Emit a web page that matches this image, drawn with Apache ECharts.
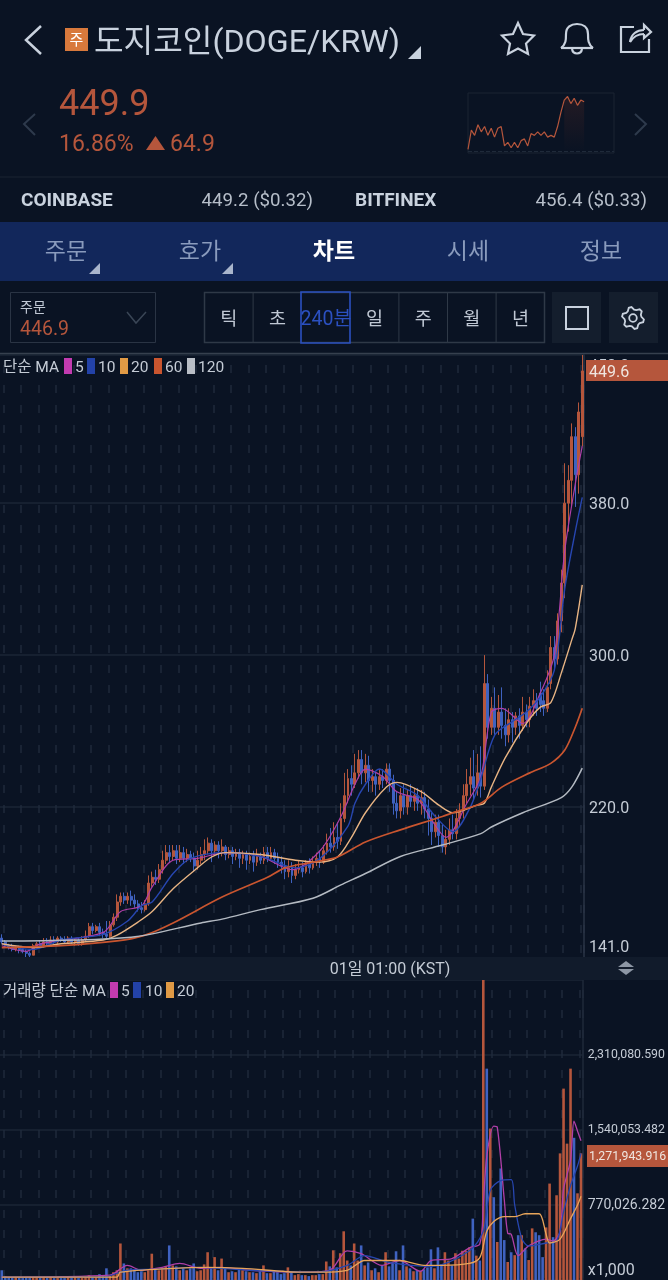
<!DOCTYPE html>
<html><head><meta charset="utf-8">
<style>html,body{margin:0;padding:0;background:#0a1323}#c{width:668px;height:1280px}</style>
<script src="https://cdn.jsdelivr.net/npm/echarts@6/dist/echarts.min.js"></script>
</head><body><div id="c"></div>
<script>
// open, close, low, high
const candleRows = [
[151,149,148,153],[149,147,146,150],[147,146,145,148],[146,145,144,148],[145,146,144,147],[146,145,143,147],[145,144,143,146],[144,143,141,145],[143,142,141,144],[142,147,142,148],
[147,148,146,149],[148,147,146,150],[147,149,146,151],[149,148,147,151],[148,150,147,152],[150,149,148,152],[149,151,148,152],[151,150,149,152],[150,149,148,152],[149,151,148,152],
[151,149,148,152],[149,150,147,151],[150,148,147,151],[148,150,147,152],[150,152,149,155],[152,157,151,159],[157,155,153,159],[155,157,154,158],[157,154,152,159],[154,153,151,156],
[153,152,151,160],[152,158,151,160],[158,162,157,164],[162,170,160,174],[170,173,168,175],[173,171,169,175],[171,173,169,175],[173,171,168,176],[171,169,167,174],[169,167,165,171],
[167,166,164,170],[166,169,165,171],[169,180,168,184],[180,183,178,186],[183,182,179,187],[182,187,180,190],[187,192,185,197],[192,196,190,200],[196,194,191,200],[194,197,192,200],
[197,193,190,200],[193,196,191,200],[196,193,190,199],[193,195,191,198],[195,193,191,197],[193,189,186,196],[189,192,187,197],[192,195,190,199],[195,197,192,203],[197,201,195,204],
[201,197,191,203],[197,200,195,202],[200,197,193,202],[197,199,194,203],[199,195,192,200],[195,197,193,199],[197,194,190,199],[194,196,192,198],[196,193,188,198],[193,195,190,197],
[195,192,187,197],[192,194,190,196],[194,191,186,197],[191,194,189,198],[194,192,190,196],[192,196,190,199],[196,193,191,199],[193,196,192,199],[196,193,190,198],[193,191,188,196],
[191,189,185,194],[189,186,182,192],[186,188,183,192],[188,184,180,191],[184,187,182,190],[187,188,185,192],[188,186,183,191],[186,190,185,192],[190,188,185,193],[188,191,187,194],
[191,193,189,196],[193,191,188,197],[191,197,190,200],[197,201,195,206],[201,199,196,209],[199,204,197,212],[204,202,198,212],[202,214,200,222],[214,226,212,238],[226,235,222,240],
[235,232,226,242],[232,238,230,248],[238,245,235,250],[245,238,232,250],[238,242,233,248],[242,234,228,247],[234,236,228,240],[236,232,226,239],[232,236,229,240],[236,234,230,240],
[234,240,232,243],[240,234,228,243],[234,222,216,237],[222,218,214,228],[218,226,214,230],[226,220,216,232],[220,226,216,229],[226,223,220,232],[223,226,218,230],[226,222,218,230],
[222,225,216,229],[225,219,214,228],[219,214,205,224],[214,207,200,218],[207,212,204,216],[212,205,199,216],[205,199,196,211],[199,203,195,208],[203,208,200,214],[208,206,203,216],
[206,214,203,219],[214,218,210,222],[218,226,214,232],[226,232,222,240],[232,236,226,246],[236,230,224,250],[230,238,226,248],[238,231,225,252],[231,285,229,300],[285,262,256,290],
[262,272,258,278],[272,262,258,283],[262,270,258,279],[270,263,256,283],[263,258,252,272],[258,266,254,272],[266,262,254,270],[262,268,258,270],[268,263,256,272],[263,270,260,278],
[270,266,262,274],[266,273,262,278],[273,276,268,282],[276,272,268,280],[280,274,270,286],[276,272,268,282],[272,283,270,292],[285,304,282,310],[304,298,292,310],[298,318,295,322],
[318,338,312,345],[338,380,330,401],[380,392,365,400],[392,415,378,422],[415,395,378,420],[395,428,385,433],[415,449.6,410,458]
];
// volume, in the axis' x1,000 units
const volumes = [
100000,40000,30000,30000,30000,30000,20000,30000,30000,30000,30000,30000,30000,20000,30000,20000,20000,20000,20000,30000,
30000,30000,20000,20000,30000,50000,30000,30000,60000,40000,120000,50000,80000,100000,375000,170000,120000,120000,100000,80000,
90000,80000,100000,270000,120000,100000,120000,140000,355000,150000,140000,100000,120000,100000,120000,170000,90000,100000,160000,285000,
120000,235000,100000,220000,120000,80000,90000,80000,110000,100000,90000,80000,80000,70000,90000,150000,70000,70000,90000,80000,
60000,70000,130000,80000,50000,60000,50000,50000,40000,50000,50000,60000,60000,190000,140000,305000,130000,275000,500000,200000,
150000,375000,200000,355000,150000,180000,100000,120000,80000,150000,285000,140000,180000,295000,100000,355000,140000,120000,90000,100000,
90000,110000,130000,315000,120000,335000,160000,285000,200000,150000,275000,220000,300000,300000,335000,630000,250000,200000,3080000,2170000,
1555000,850000,390000,1145000,410000,185000,285000,255000,460000,460000,325000,205000,530000,490000,460000,235000,540000,990000,440000,870000,
1300000,1965000,1400000,2170000,1460000,890000,1300000
];
// moving averages: [candle index, value]
const ma5 = [[0,147],[7,144],[11,148],[29,154],[34,165],[40,168],[43,178],[49,192],[56,193],[64,196],[74,194],[83,187],[91,197],[97,215],[101,232],[104,240],[109,236],[113,228],[119,224],[123,213],[127,204],[133,222],[137,236],[140,270],[143,272],[149,264],[154,280],[158,300],[161,355],[164,390],[166,410]];
const ma10 = [[0,148],[9,145],[17,150],[29,153],[36,160],[40,168],[43,170],[49,185],[54,193],[64,196],[74,194],[84,188],[91,193],[99,210],[101,222],[104,232],[108,240],[113,232],[119,226],[124,215],[129,207],[134,220],[137,235],[141,258],[146,265],[150,270],[154,278],[158,292],[161,335],[164,365],[166,383]];
const ma20 = [[0,148],[9,146],[17,148],[29,150],[33,152.6],[39,159.5],[43,165],[49,177],[56,188],[60,193.7],[64,196],[74,195],[84,192],[91,191],[96,193.7],[100,204],[104,217],[110,230.5],[113,233],[120,228],[125,221],[129,217],[136,221],[138,222],[140,230.5],[144,246],[150,264],[154,272.6],[157,275],[160,290.5],[163,308],[164,314],[166,337]];
const ma60 = [[0,146],[17,147],[33,149.5],[41,152.6],[49,159],[63,172.6],[76,183],[81,188],[89,191],[96,193.7],[104,201.6],[114,208],[126,215],[129,217],[137,222],[143,230.5],[151,238],[157,243],[161,250],[164,262],[166,272]];
const ma120 = [[0,149.5],[37,151.5],[57,159],[63,161],[74,166],[89,172],[97,179],[104,185],[114,194],[126,200],[137,206],[140,209.5],[149,217],[160,225],[163,230.5],[166,240.5]];
const volMa5 = [[0,30000],[31,50000],[36,150000],[40,100000],[46,130000],[51,170000],[57,120000],[63,130000],[71,100000],[86,80000],[94,100000],[99,300000],[103,270000],[109,150000],[114,200000],[120,90000],[123,200000],[129,220000],[134,330000],[137,370000],[138,770000],[139,1270000],[141,1580000],[142,1570000],[144,830000],[145,480000],[146,470000],[148,250000],[151,350000],[156,420000],[158,400000],[160,500000],[161,930000],[163,1230000],[164,1630000],[165,1530000],[166,1430000]];
const volMa10 = [[0,30000],[29,30000],[36,100000],[43,110000],[57,130000],[71,100000],[91,80000],[99,150000],[104,250000],[111,180000],[123,140000],[134,300000],[138,500000],[140,920000],[143,1020000],[146,1030000],[147,770000],[149,430000],[151,350000],[156,380000],[159,400000],[161,700000],[163,970000],[165,1170000],[166,1300000]];
const volMa20 = [[0,30000],[33,30000],[34,80000],[49,120000],[59,130000],[69,120000],[86,80000],[91,80000],[99,100000],[104,200000],[114,200000],[121,150000],[126,150000],[134,170000],[137,230000],[139,500000],[141,600000],[144,650000],[147,650000],[150,680000],[154,680000],[156,470000],[157,380000],[160,420000],[163,630000],[165,770000],[166,860000]];
const priceTicks = {140:"141.0",220:"220.0",300:"300.0",380:"380.0",458:"458.0"};
const volumeTickLabels = ["x1,000","770,026.282","1,540,053.482","2,310,080.590",""];
const lastPrice = "449.6", lastVolume = "1,271,943.916";
const sparkline = [5,60,45,75,55,70,45,65,40,65,70,15,25,10,25,10,30,35,15,50,45,55,45,55,40,45,40,70,110,145,155,135,150,130,145,140];
const sparkShade = [,,,,,,,,,,,,,,,,,,,,,,,,,,,,,145,155,135,150,130,145,140];
const tabs = ["주문","호가","차트","시세","정보"];
const periods = ["틱","초","240분","일","주","월","년"];

const FF = 'Roboto,"Noto Sans CJK KR",sans-serif';
const BG='#0a1323', RED='#b5563c', BLUE='#3f62c0', TXT='#c5ccd6', GRID='#1b2636', DASH='#1f2a3b';
const cats = candleRows.map((_,i)=>String(i));
const T=(x,y,text,size,fill,o={})=>({type:'text',z:50,x,y:y+size*0.11,style:{text,font:`${o.bold?'700 ':''}${size}px ${FF}`,fill,textAlign:o.a||'left',textVerticalAlign:'middle'}});
const R=(x,y,w,h,fill,o={})=>({type:'rect',z:o.z||40,shape:{x,y,width:w,height:h},style:{fill,stroke:o.stroke||null,lineWidth:o.lw||1}});
const P=(pts,stroke,lw=2,fill=null)=>({type:fill?'polygon':'polyline',z:50,shape:{points:pts},style:{stroke:stroke==='none'?null:stroke,lineWidth:lw,fill:fill||null}});
const B=(x1,y1,cpx1,cpy1,cpx2,cpy2,x2,y2,c,lw)=>({type:'bezierCurve',z:50,shape:{x1,y1,cpx1,cpy1,cpx2,cpy2,x2,y2},style:{stroke:c,lineWidth:lw,fill:null}});
const LINE=(x1,y1,x2,y2,c,lw=1)=>({type:'line',z:41,shape:{x1,y1,x2,y2},style:{stroke:c,lineWidth:lw}});

const g=[];
const IC='#c9d2de';
// header
g.push(P([[41,26],[26,40],[41,54]],IC,2.5));
g.push(R(65,28,23,23,'#d8793c'));
g.push(T(76.5,40,'주',15,'#fff',{a:'center'}));
g.push(T(94,40,'도지코인(DOGE/KRW)',32.2,IC));
g.push(P([[421,46],[421,59],[408,59]],'none',0,IC));
g.push({type:'polygon',z:50,shape:{points:[[518,23],[523,34],[534,35.5],[526,43.5],[528,54],[518,48.5],[508,54],[510,43.5],[502,35.5],[513,34]]},style:{stroke:IC,lineWidth:2.2,fill:null}});
// bell
g.push(B(561,48,566,44,566,40,566,34,IC,2.2),B(566,34,566,27,571,24,577,24,IC,2.2),B(577,24,583,24,588,27,588,34,IC,2.2),B(588,34,588,40,588,44,593,48,IC,2.2));
g.push(LINE(561,48,593,48,IC,2.2),B(572,49,573,55,581,55,582,49,IC,2.2));
// share
g.push(P([[634,27],[621,27],[621,52],[649,52],[649,39]],IC,2.2));
g.push(B(630,42,631,34,637,30,644,30,IC,2.2),P([[644,30],[644,25],[651,32],[644,38],[644,34]],IC,2.2),B(644,34,638,34,633,37,630,42,IC,2.2));
g.push(T(59,102,'449.9',36,RED));
g.push(T(59,143,'16.86%',23,RED));
g.push(P([[146,150],[155.5,136],[165,150]],'none',0,RED));
g.push(T(170,143,'64.9',23,RED));
g.push(P([[35,114],[24,124],[35,135]],'#2e3a4c',2));
g.push(P([[635,114],[646,124],[635,135]],'#2e3a4c',2));
g.push(LINE(0,177,668,177,'#1a2433',1));
g.push(T(21,199,'COINBASE',19,IC,{bold:true}));
g.push(T(313,199,'449.2 ($0.32)',18.7,'#b6bec9',{a:'right'}));
g.push(T(355,199,'BITFINEX',19,IC,{bold:true}));
g.push(T(647,199,'456.4 ($0.33)',18.7,'#b6bec9',{a:'right'}));
// tab bar
g.push(R(0,222,668,59,'#12275b'));
const tabX=[66,200,334,468,601];
tabs.forEach((t,i)=>g.push(T(tabX[i],251,t,23,i==2?'#fff':'#8a9bbd',{a:'center',bold:i==2})));
[100,233].forEach(x=>g.push(P([[x,263],[x,274],[x-11,274]],'none',0,'#a9b5cc')));
// toolbar
g.push(R(10.5,292.5,145,50,null,{stroke:'#2a3444'}));
g.push(T(20,307,'주문',14,'#c0c8d4'));
g.push(T(20,328,'446.9',19.5,RED));
g.push(P([[127,312],[136,323],[146,312]],'#3a4656',1.5));
g.push(R(204.5,292.5,340,50,null,{stroke:'#2f3947',lw:1.5}));
periods.forEach((p,i)=>{const x=204.5+i*48.6;
 if(i>0&&i!=2&&i!=3)g.push(LINE(x,292.5,x,342.5,'#2f3947',1));
 g.push(T(x+24.3,318,p,i==2?19.5:18.5,i==2?'#2b50c0':'#c0c8d4',{a:'center'}));});
g.push(R(301,292,49,51,null,{stroke:'#2b50c0',lw:1.6,z:45}));
g.push(R(552,292,49,51,'#141e2d'));
g.push(R(566,307,22,22,null,{stroke:IC,lw:2,z:50}));
g.push(R(609,292,49,51,'#141e2d'));
{const pts=[];for(let i=0;i<24;i++){const a=i/24*Math.PI*2,r=(i%4<2)?11:8.5;pts.push([633+r*Math.cos(a+0.13),318+r*Math.sin(a+0.13)]);}
 g.push({type:'polygon',z:50,shape:{points:pts},style:{stroke:IC,lineWidth:1.8,fill:null}});
 g.push({type:'circle',z:50,shape:{cx:633,cy:318,r:3.8},style:{stroke:IC,lineWidth:1.8,fill:null}});}
g.push(LINE(0,353.5,668,353.5,'#36404e',1.5));
// legends
function legend(y,label,items){g.push(T(3,y,label,15.5,TXT));
 items.forEach(([x,c,t,tx])=>{g.push(R(x,y-8,8,16,c));g.push(T(tx,y,t,15.5,TXT));});}
legend(366,'단순 MA',[[64,'#c23bb0','5',75],[87,'#2342a8','10',98],[120,'#e09a45','20',131],[154,'#c9552f','60',165],[187,'#b9bec6','120',198]]);
legend(990,'거래량 단순 MA',[[110,'#c23bb0','5',121],[133,'#2342a8','10',145],[166,'#e09a45','20',177]]);
// last price tags
g.push(R(586,360,82,21,'#b5563c'));
g.push(T(589,371,lastPrice,16,'#f0e6e0'));
g.push(R(587,1145,81,22,'#b5563c'));
g.push(T(589,1156,lastVolume,12.3,'#f0e6e0'));
// time strip
g.push(R(0,957,668,23,'#111b2b'));
g.push(T(390,968,'01일 01:00 (KST)',16,TXT,{a:'center'}));
g.push(P([[618,967],[626,961],[634,967]],'none',0,'#8d97a5'));
g.push(P([[618,969],[626,975],[634,969]],'none',0,'#8d97a5'));

const vertLines=(i)=>i%5===1;
const xBase=(idx)=>({type:'category',gridIndex:idx,data:cats,boundaryGap:true,
 axisLine:{show:false},axisTick:{show:false},axisLabel:{show:false},
 splitLine:{show:true,interval:vertLines,lineStyle:{color:DASH,width:1.5,type:[8,12],dashOffset:10}}});
const lineS=(name,data,color,w,xi=0)=>({name,type:'line',xAxisIndex:xi,yAxisIndex:xi,data,symbol:'none',smooth:0.3,silent:true,animation:false,connectNulls:true,lineStyle:{color,width:w},z:3});

const option={
 animation:false,backgroundColor:BG,
 grid:[{left:0,right:84,top:355,height:604},{left:0,right:84,top:980,height:300},{left:468,width:146,top:93,height:60,show:true,borderColor:'#1a2433',borderWidth:1}],
 xAxis:[xBase(0),xBase(1),{type:'category',gridIndex:2,data:Array.from({length:45},(_,i)=>String(i)),boundaryGap:false,axisLine:{show:false},axisTick:{show:false},axisLabel:{show:false},splitLine:{show:false}}],
 yAxis:[
  {type:'value',gridIndex:0,position:'right',min:140,max:458,interval:80,
   axisLine:{show:true,lineStyle:{color:'#2a3446',width:1.5}},axisTick:{show:false},
   axisLabel:{margin:5,fontFamily:FF,verticalAlignMinLabel:'bottom',verticalAlignMaxLabel:'top',
    formatter:v=>{const s=priceTicks[v]||'';return s?`{${v==140?'low':'n'}|${s}}`:'';},
    rich:{n:{color:TXT,fontSize:16,fontFamily:FF,padding:[4,0,0,0]},low:{color:TXT,fontSize:16,fontFamily:FF,padding:[0,0,3,0]}}},
   splitLine:{lineStyle:{color:GRID,width:1.5}}},
  {type:'value',gridIndex:1,position:'right',min:0,max:3080105.128,interval:770026.282,
   axisLine:{show:true,lineStyle:{color:'#1f2a3a',width:1.5}},axisTick:{show:false},
   axisLabel:{margin:5,fontFamily:FF,verticalAlignMinLabel:'bottom',formatter:(v,i)=>{const s=volumeTickLabels[i]||'';return s?`{${i==0?'x':i==1?'m':'s'}|${s}}`:'';},
    rich:{s:{color:TXT,fontSize:12.3,fontFamily:FF},m:{color:TXT,fontSize:14,fontFamily:FF},x:{color:TXT,fontSize:16,fontFamily:FF,padding:[0,0,1.5,0]}}},
   splitLine:{lineStyle:{color:GRID,width:1.5}}},
  {type:'value',gridIndex:2,min:-5,max:165,axisLine:{show:false},axisTick:{show:false},axisLabel:{show:false},splitLine:{show:false}}
 ],
 series:[
  {type:'candlestick',xAxisIndex:0,yAxisIndex:0,data:candleRows.map(r=>[r[0],r[1],r[2],r[3]]),barWidth:2.4,silent:true,animation:false,z:2,large:false,
   itemStyle:{color:RED,color0:BLUE,borderColor:RED,borderColor0:BLUE,borderWidth:1}},
  lineS('MA5',ma5,'#b03fa8',1.2),
  lineS('MA10',ma10,'#2746b0',1.4),
  lineS('MA20',ma20,'#e8b483',1.4),
  lineS('MA60',ma60,'#c9552f',1.7),
  lineS('MA120',ma120,'#b4bac2',1.5),
  {type:'bar',xAxisIndex:1,yAxisIndex:1,barWidth:2.6,silent:true,animation:false,z:2,
   data:volumes.map((v,i)=>({value:v,itemStyle:{color:candleRows[i][1]>=candleRows[i][0]?RED:BLUE}}))},
  lineS('V5',volMa5,'#b03fa8',1.3,1),
  lineS('V10',volMa10,'#2746b0',1.3,1),
  lineS('V20',volMa20,'#e8a55a',1.3,1),
  {type:'line',xAxisIndex:2,yAxisIndex:2,data:sparkShade,symbol:'none',silent:true,animation:false,lineStyle:{width:0},
   areaStyle:{color:{type:'linear',x:0,y:0,x2:0,y2:1,colorStops:[{offset:0,color:'rgba(150,60,40,.25)'},{offset:1,color:'rgba(150,60,40,0)'}]}},z:2},
  {type:'line',xAxisIndex:2,yAxisIndex:2,data:sparkline,symbol:'none',silent:true,animation:false,lineStyle:{color:'#b5563c',width:1.2},z:3,
   markLine:{silent:true,symbol:'none',label:{show:false},lineStyle:{color:'#1f2a3a',type:'dashed',width:1},data:[{yAxis:0}]}}
 ],
 graphic:{elements:g}
};
const chart=echarts.init(document.getElementById('c'),null,{renderer:'canvas',width:668,height:1280});
chart.setOption(option);
</script></body></html>
